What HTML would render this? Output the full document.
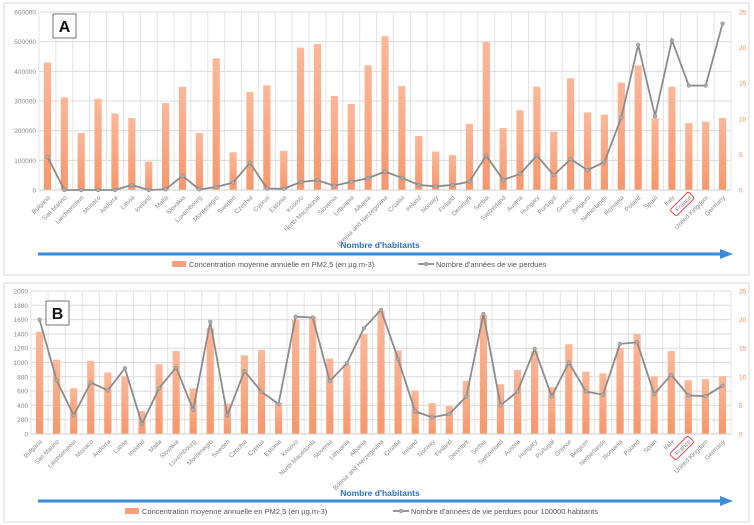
<!DOCTYPE html>
<html><head><meta charset="utf-8"><style>
body{margin:0;background:#fff;font-family:"Liberation Sans",sans-serif}
svg{display:block}
</style></head><body>
<svg id="c" width="754" height="525" xmlns="http://www.w3.org/2000/svg">
<defs><linearGradient id="bg" x1="0" y1="0" x2="0" y2="1"><stop offset="0" stop-color="#fbb89a"/><stop offset="1" stop-color="#f7976c"/></linearGradient></defs>
<rect x="4" y="3" width="745" height="272" fill="#fff" stroke="#d9d9d9"/>
<rect x="4" y="283" width="745" height="239" fill="#fff" stroke="#d9d9d9"/>
<g id="ga"></g><g id="gb"></g>
</svg>
<script>
const countries=["Bulgaria","San Marino","Liechtenstein","Monaco","Andorra","Latvia","Iceland","Malta","Slovakia","Luxembourg","Montenegro","Sweden","Czechia","Cyprus","Estonia","Kosovo","North Macedonia","Slovenia","Lithuania","Albania","Bosnia and Herzegovina","Croatia","Ireland","Norway","Finland","Denmark","Serbia","Switzerland","Austria","Hungary","Portugal","Greece","Belgium","Netherlands","Romania","Poland","Spain","Italy","France","United Kingdom","Germany"];
const pm25=[17.9,13,8,12.8,10.75,10.1,4,12.2,14.5,8,18.5,5.3,13.75,14.7,5.5,20,20.5,13.2,12.1,17.5,21.6,14.6,7.6,5.4,4.9,9.3,20.8,8.7,11.2,14.5,8.2,15.7,10.9,10.6,15.1,17.5,10.1,14.5,9.4,9.6,10.1];
const yearsLost=[112000,0,0,0,0,17000,0,2000,48000,2000,10000,25000,92000,5000,4000,27000,33000,14000,28000,40000,62000,41000,17000,12000,17000,28000,116000,34000,54000,116000,50000,104000,67000,94000,244000,489000,249000,505000,352000,352000,561000];
const yearsLostPer100k=[1600,750,260,720,610,920,140,640,930,340,1570,260,880,590,420,1640,1630,740,990,1480,1736,1050,316,233,279,525,1679,400,595,1190,525,1000,595,549,1260,1283,558,828,539,530,674];
const leftTicksA=[0,100000,200000,300000,400000,500000,600000];
const leftTicksB=[0,200,400,600,800,1000,1200,1400,1600,1800,2000];
const rightTicks=[0,5,10,15,20,25];
const NS="http://www.w3.org/2000/svg";
function mk(p,t,a){const e=document.createElementNS(NS,t);for(const k in a)e.setAttribute(k,a[k]);p.appendChild(e);return e;}
function panel(g,cfg){
 const {x0,x1,y0,y1,leftTicks,lmax,line,label,lx,ly,legText,legRect,legLine,arrowY,nhY}=cfg;
 const n=countries.length,sw=(x1-x0)/n;
 const xs=i=>x0+sw*(i+0.5);
 const yl=v=>y1-(v/lmax)*(y1-y0);
 const yr=v=>y1-(v/25)*(y1-y0);
 for(let i=0;i<=n;i++){const l=mk(g,'line',{x1:x0+sw*i,x2:x0+sw*i,y1:y0,y2:y1,stroke:'#e4e4e4','stroke-width':1});
 
 }
 leftTicks.forEach(t=>{const l=mk(g,'line',{x1:x0,x2:x1,y1:yl(t),y2:yl(t),stroke:'#dcdcdc'});
 
 
 const tx=mk(g,'text',{x:x0-3,y:yl(t)+2.5,'font-size':'6.5','text-anchor':'end',fill:'#8a8a8a'});tx.textContent=t;
 
 });
 rightTicks.forEach(t=>{const tx=mk(g,'text',{x:x1+8,y:yr(t)+2.5,'font-size':'6.5',fill:'#f08a5d'});tx.textContent=t;
 
 });
 pm25.forEach((v,i)=>{const r=mk(g,'rect',{x:xs(i)-3.6,y:yr(v),width:7.2,height:y1-yr(v),fill:'url(#bg)'});
 
 });
 mk(g,'line',{x1:x0,x2:x1,y1:y1,y2:y1,stroke:'#cfcfcf'});
 const pts=line.map((v,i)=>xs(i)+','+yl(v)).join(' ');
 const pl=mk(g,'polyline',{points:pts,fill:'none',stroke:'#8c8c8c','stroke-width':1.8});
 
 
 line.forEach((v,i)=>{const c=mk(g,'circle',{cx:xs(i),cy:yl(v),r:1.8,fill:'#b0b0b0',stroke:'#8c8c8c','stroke-width':0.6});
 
 });
 countries.forEach((c,i)=>{const x=xs(i)+3,y=y1+8;
 const t=mk(g,'text',{x:x,y:y,'font-size':'6.3','text-anchor':'end',fill:'#8a8a8a',transform:`rotate(-45 ${x} ${y})`});t.textContent=c;
 
 
 if(c==="France"){const r=mk(g,'rect',{x:x-24,y:y-7,width:26,height:9,rx:2,fill:'none',stroke:'#e8303a','stroke-width':0.9,transform:`rotate(-45 ${x} ${y})`});
 
 }});
 const bx=mk(g,'rect',{x:lx,y:ly,width:23,height:24,fill:'#fff',stroke:'#555','stroke-width':0.8});
 
 
 const lb=mk(g,'text',{x:lx+11.5,y:ly+18,'font-size':'16','font-weight':'bold','text-anchor':'middle',fill:'#111'});lb.textContent=label;
 
 
 const nh=mk(g,'text',{x:380,y:nhY,'font-size':'8.5','font-weight':'bold','text-anchor':'middle',fill:'#2a72c8'});nh.textContent="Nombre d'habitants";
 
 
 const ar=mk(g,'line',{x1:38,x2:722,y1:arrowY,y2:arrowY,stroke:'#3b8bd8','stroke-width':3});
 
 
 mk(g,'polygon',{points:`720,${arrowY-5} 733,${arrowY} 720,${arrowY+5}`,fill:'#3b8bd8'});
 const ly2=arrowY+11;
 const lr=mk(g,'rect',{x:legRect,y:ly2-4,width:14,height:6,fill:'#f9a07a'});
 
 
 const lt=mk(g,'text',{x:legRect+17,y:ly2+2,'font-size':'7.5',fill:'#555'});lt.textContent="Concentration moyenne annuelle en PM2,5 (en µg.m-3)";
 
 
 const ll=mk(g,'line',{x1:legLine,x2:legLine+16,y1:ly2-1,y2:ly2-1,stroke:'#8c8c8c','stroke-width':1.8});
 
 
 mk(g,'circle',{cx:legLine+8,cy:ly2-1,r:1.8,fill:'#b0b0b0',stroke:'#8c8c8c','stroke-width':0.6});
 const lt2=mk(g,'text',{x:legLine+18,y:ly2+2,'font-size':'7.5',fill:'#555'});lt2.textContent=legText;
 
 
}
panel(document.getElementById('ga'),{x0:39,x1:731,y0:12,y1:190,leftTicks:leftTicksA,lmax:600000,line:yearsLost,label:'A',lx:53,ly:14,legText:"Nombre d'années de vie perdues",legRect:172,legLine:418,arrowY:254,nhY:248});
panel(document.getElementById('gb'),{x0:31,x1:731,y0:291,y1:434,leftTicks:leftTicksB,lmax:2000,line:yearsLostPer100k,label:'B',lx:46,ly:301,legText:"Nombre d'années de vie perdues pour 100000 habitants",legRect:125,legLine:393,arrowY:501,nhY:496});
</script>
</body></html>
